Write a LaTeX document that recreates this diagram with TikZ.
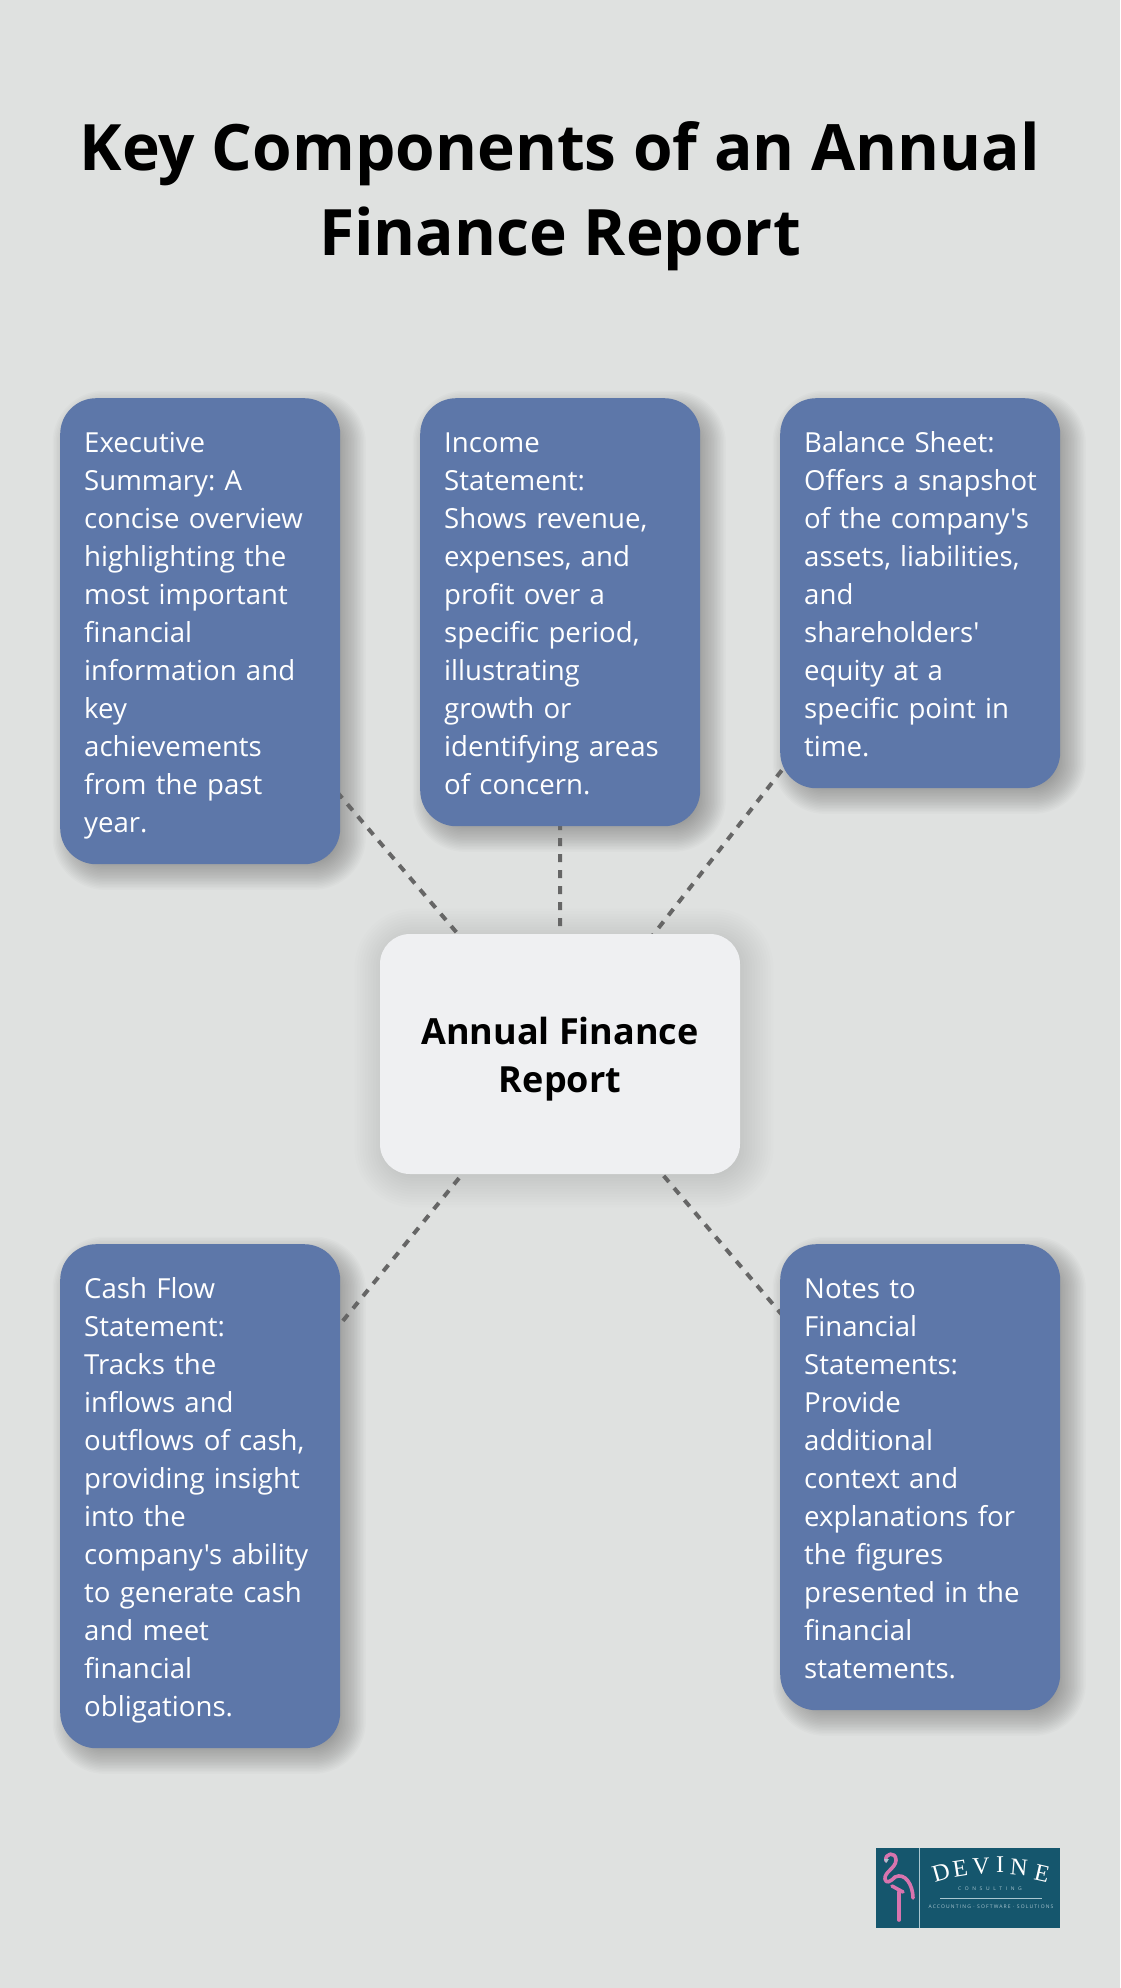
\documentclass[tikz,border=0pt]{standalone}
\usepackage{fontspec}
\setmainfont{Open Sans}[Ligatures=TeXOff]
\usetikzlibrary{calc,backgrounds}
\definecolor{pagebg}{HTML}{DFE1E0}
\definecolor{cardblue}{HTML}{5D77A9}
\definecolor{hubfill}{HTML}{EFF0F2}
\definecolor{linkgray}{HTML}{666666}
\definecolor{logoteal}{HTML}{15566D}
\definecolor{logopink}{HTML}{D874AE}
\definecolor{logopale}{HTML}{A9C6D0}
\newcommand{\cardfirst}{\rule{0pt}{34.2pt}}
\newcommand{\cardlast}{\rule[-11.4pt]{0pt}{1pt}}
\newcommand{\cardfont}{\fontsize{27.6}{38}\selectfont\frenchspacing\hyphenpenalty=10000\relax\exhyphenpenalty=10000\relax}
\tikzset{
  x=1pt,y=-1pt,
  card/.style={draw=none,fill=cardblue,rounded corners=36pt,text=white,minimum width=280pt,
    inner xsep=24pt,inner ysep=0pt,text width=232pt,align=left,
    font=\cardfont,anchor=north west},
  hub/.style={fill=hubfill,rounded corners=30pt,minimum width=360pt,minimum height=240pt,
    align=center,font=\fontsize{36}{48}\selectfont\bfseries,text=black},
  headline/.style={align=center,font=\fontsize{64}{85}\selectfont\bfseries,text=black},
  link/.style={draw=linkgray,line width=4pt,dash pattern=on 8pt off 8pt},
  logotxt/.style={inner sep=0pt,text=white},
  flamingo/.style={draw=logopink,line width=3.6pt,line cap=round,line join=round}
}
\newcommand{\softshadow}[6]{% node, dx, dy, blur, per-layer opacity, base radius
  \foreach \i in {1,...,24}{
    \pgfmathsetmacro{\g}{#4*(1-2*\i/24)}
    \fill[black,opacity=#5,rounded corners={max(#6+\g,4)*1pt}]
      ($(#1.north west)+(#2-\g,#3-\g)$) rectangle ($(#1.south east)+(#2+\g,#3+\g)$);
  }
}
\begin{document}
\begin{tikzpicture}
\useasboundingbox (0,0) rectangle (1120,1988);

\node[headline] (title) at (560,196) {Key Components of an Annual\\Finance Report};

\node[card,minimum height=466pt] (exec) at (60,398) {\cardfirst Executive\\Summary: A\\concise overview\\highlighting the\\most important\\financial\\information and\\key\\achievements\\from the past\\year.\cardlast};
\node[card,minimum height=428pt] (income) at (420,398) {\cardfirst Income\\Statement:\\Shows revenue,\\expenses, and\\profit over a\\specific period,\\illustrating\\growth or\\identifying areas\\of concern.\cardlast};
\node[card,minimum height=390pt] (balance) at (780,398) {\cardfirst Balance Sheet:\\\makebox[232pt][l]{Offers a snapshot}\\of the company's\\assets, liabilities,\\and\\shareholders'\\equity at a\\specific point in\\time.\cardlast};
\node[card,minimum height=504pt] (cash) at (60,1244) {\cardfirst Cash Flow\\Statement:\\Tracks the\\inflows and\\outflows of cash,\\providing insight\\into the\\company's ability\\to generate cash\\and meet\\financial\\obligations.\cardlast};
\node[card,minimum height=466pt] (notes) at (780,1244) {\cardfirst Notes to\\Financial\\Statements:\\Provide\\additional\\context and\\explanations for\\the figures\\presented in the\\financial\\statements.\cardlast};
\node[hub] (hub) at (560,1054) {\rule{0pt}{43pt}Annual Finance\\Report\rule[-14.4pt]{0pt}{1pt}};

\begin{pgfonlayer}{background}
  \fill[pagebg] (0,0) rectangle (1120,1988);
  \softshadow{exec}{9}{9}{18}{0.014}{36}
  \softshadow{income}{9}{9}{18}{0.014}{36}
  \softshadow{balance}{9}{9}{18}{0.014}{36}
  \softshadow{cash}{9}{9}{18}{0.014}{36}
  \softshadow{notes}{9}{9}{18}{0.014}{36}
  \softshadow{hub}{4}{4}{32}{0.009}{30}
  \draw[link] (hub.center) -- (exec.center);
  \draw[link] (hub.center) -- (income.center);
  \draw[link] (hub.center) -- (balance.center);
  \draw[link] (hub.center) -- (cash.center);
  \draw[link] (hub.center) -- (notes.center);
\end{pgfonlayer}

% logo
\fill[logoteal] (876,1848) rectangle (1060,1928);
\draw[logopale,line width=0.7pt] (919.5,1848) -- (919.5,1928);
\draw[flamingo] (886,1861) .. controls (884,1853) and (896,1851) .. (896,1860)
   .. controls (896,1868) and (884,1872) .. (885,1879)
   .. controls (886,1884) and (890,1882) .. (895,1877)
   .. controls (905,1872) and (913,1885) .. (913,1898);
\draw[flamingo] (892,1886) -- (903,1892);
\draw[flamingo] (899,1892) -- (899,1920);
\fill[logopale] (884,1859) -- (889,1859) -- (886,1863) -- cycle;
\foreach \ltr/\px/\py/\rot [count=\k] in {D/941/1873/16,E/960/1869/9,V/981/1866/3,I/1000/1865/0,N/1019/1867/-5,E/1042/1873/-13}{
  \node[logotxt,font=\fontspec{Liberation Serif}\fontsize{24}{24}\selectfont,rotate=\rot] (dev\k) at (\px,\py) {\ltr};
}
\node[logotxt,text=logopale,font=\fontsize{5}{6}\selectfont\addfontfeature{LetterSpace=72}] (consult) at (990,1889) {CONSULTING};
\draw[logopale,line width=0.5pt] (940,1898) -- (1042,1898);
\node[logotxt,text=logopale,font=\fontsize{5}{6}\selectfont\addfontfeature{LetterSpace=23}] (tag) at (991,1906.5) {ACCOUNTING · SOFTWARE · SOLUTIONS};
\end{tikzpicture}
\end{document}
